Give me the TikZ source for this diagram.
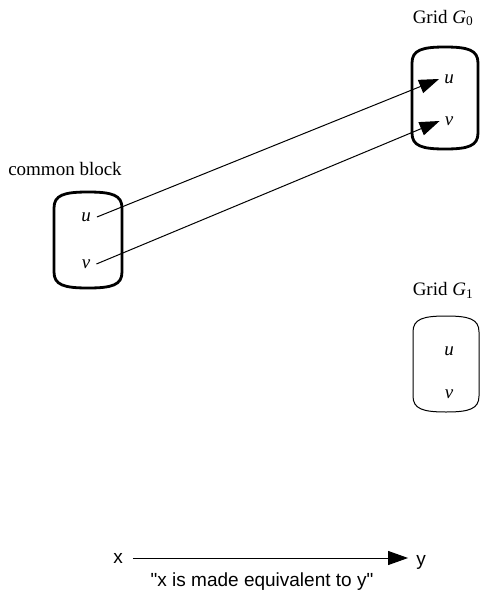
\documentclass[tikz,border=0pt]{standalone}
\usepackage{fontspec}
\setmainfont{Liberation Serif}
\newfontfamily\legendfont{Liberation Sans}
\usetikzlibrary{arrows.meta}
% drum-shaped box: style, left, top, right, bottom
\newcommand\drumbox[5]{%
  \pgfmathsetmacro\dxm{(#2+#4)/2}%
  \draw[#1] (#2,#3+16) .. controls (#2,#3+3) and (#2+10,#3) .. (\dxm,#3)
    .. controls (#4-10,#3) and (#4,#3+3) .. (#4,#3+16)
    -- (#4,#5-16) .. controls (#4,#5-3) and (#4-10,#5) .. (\dxm,#5)
    .. controls (#2+10,#5) and (#2,#5-3) .. (#2,#5-16) -- cycle;}
\begin{document}
\begin{tikzpicture}[x=1pt,y=-1pt,
  lbl/.style={font=\fontsize{19}{22}\selectfont, inner sep=0pt},
  var/.style={font=\fontsize{19}{22}\selectfont\itshape, inner sep=1pt},
  legendtext/.style={font=\legendfont\fontsize{19}{22}\selectfont, inner sep=0pt},
  blockbox/.style={line width=2.8pt},
  gridbox/.style={line width=1pt},
  eqarrow/.style={-{Triangle[length=20pt,width=14pt]}, line width=1pt}]
\useasboundingbox (0,0) rectangle (480,592);

% common block
\node[lbl] (cbl) at (65,169) {common block};
\drumbox{blockbox}{54}{192}{122}{288}
\node[var] (cu) at (86,217) {u};
\node[var] (cv) at (86,264) {v};

% grid G0
\node[lbl] (g0l) at (443,18) {Grid \textit{G}\textsubscript{0}};
\drumbox{blockbox}{412}{47}{478}{149}
\node[var] (g0u) at (449,79) {u};
\node[var] (g0v) at (449,121) {v};

% grid G1
\node[lbl] (g1l) at (443,290) {Grid \textit{G}\textsubscript{1}};
\drumbox{gridbox}{413}{316}{479}{412}
\node[var] (g1u) at (449,351) {u};
\node[var] (g1v) at (449,394) {v};

% equivalence arrows
\draw[eqarrow] ([xshift=5pt]cu.east) -- ([xshift=-4pt]g0u.west);
\draw[eqarrow] ([xshift=5pt]cv.east) -- ([xshift=-4pt]g0v.west);

% legend
\node[legendtext] (lx) at (118,558) {x};
\node[legendtext] (ly) at (421,562) {y};
\draw[eqarrow] ([xshift=10pt]lx.east) -- ([xshift=-8pt]ly.west |- lx.east);
\node[legendtext] (lcap) at (262,582) {"x is made equivalent to y"};
\end{tikzpicture}
\end{document}
